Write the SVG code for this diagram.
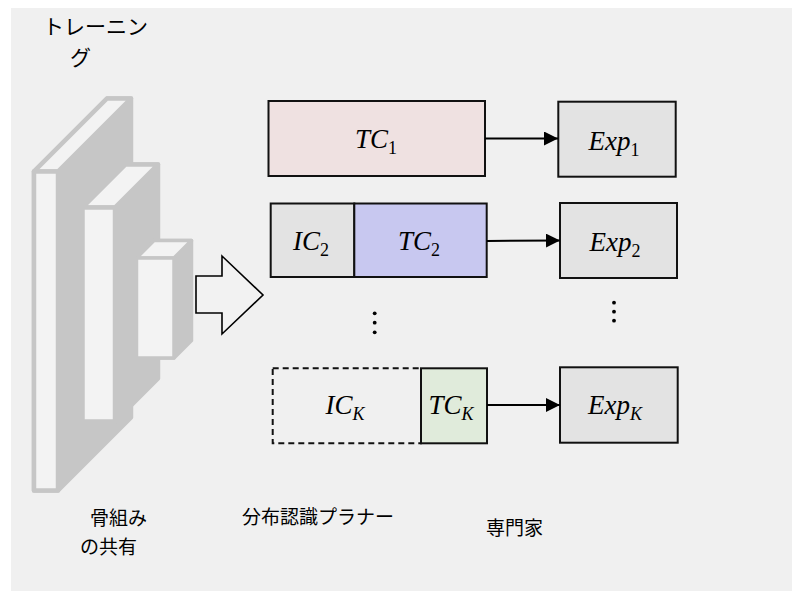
<svg xmlns="http://www.w3.org/2000/svg" width="792" height="591" viewBox="0 0 792 591">
  <style>
    .blk { fill: #c6c6c6; stroke: #c6c6c6; stroke-linejoin: round; }
    .face { fill: #f3f3f3; stroke: #c6c6c6; stroke-linejoin: round; }
    .box { stroke: #111; stroke-width: 2; }
    .math { font-family: "Liberation Serif", "Times New Roman", serif; font-style: italic; font-size: 27px; fill: #000; }
    .sub { font-size: 18px; }
    .up { font-style: normal; }
    .jp { font-family: "Noto Sans CJK JP", "Noto Sans", sans-serif; font-size: 19px; fill: #000; }
    .conn { stroke: #000; stroke-width: 2; fill: none; }
  </style>
  <defs>
    <marker id="head" markerUnits="userSpaceOnUse" markerWidth="14" markerHeight="14" refX="14" refY="7" orient="auto">
      <path d="M0,0 L14,7 L0,14 Z" fill="#000"/>
    </marker>
  </defs>

  <!-- panel background -->
  <rect x="11" y="8" width="781" height="583" fill="#f0f0f0"/>

  <!-- title -->
  <g id="label-training">
    <text class="jp" x="43" y="34" style="font-size:21px">トレーニン</text>
    <text class="jp" x="70" y="65" style="font-size:21px">グ</text>
  </g>

  <!-- shared backbone: three stacked cuboids -->
  <g id="backbone">
    <g id="layer1">
      <polygon class="blk" stroke-width="4.5" points="34,171.5 107,98.5 131,98.5 131,417.5 58,490.5 34,490.5"/>
      <polygon class="face" stroke-width="4.5" points="34,171.5 107,98.5 131,98.5 58,171.5"/>
      <rect class="face" stroke-width="4.5" x="34" y="171.5" width="24" height="319"/>
    </g>
    <g id="layer2">
      <polygon class="blk" stroke-width="4.5" points="82.5,207.5 125.5,164.5 158,164.5 158,378.5 115,421.5 82.5,421.5"/>
      <polygon class="face" stroke-width="4.5" points="82.5,207.5 125.5,164.5 158,164.5 115,207.5"/>
      <rect class="face" stroke-width="4.5" x="82.5" y="207.5" width="32.5" height="214"/>
    </g>
    <g id="layer3">
      <polygon class="blk" stroke-width="3.5" points="136.5,258 154,240.5 191.5,240.5 191.5,340.5 174,358 136.5,358"/>
      <polygon class="face" stroke-width="3.5" points="136.5,258 154,240.5 191.5,240.5 174,258"/>
      <rect class="face" stroke-width="3.5" x="136.5" y="258" width="37.5" height="100"/>
    </g>
  </g>

  <!-- hollow block arrow -->
  <g id="feed-arrow">
    <polygon points="196,276 222,276 222,256 263,295 222,334 222,313 196,313" fill="#f2f2f2" stroke="#000" stroke-width="1.6" stroke-linejoin="miter"/>
  </g>

  <!-- planner row 1 -->
  <g id="tc1">
    <rect class="box" x="268.5" y="101" width="216.5" height="75" fill="#efe1e1"/>
    <text class="math" x="376" y="148" text-anchor="middle">TC<tspan class="sub up" dy="6">1</tspan></text>
  </g>
  <!-- planner row 2 -->
  <g id="ic2">
    <rect class="box" x="270.7" y="203.5" width="83.6" height="73.5" fill="#e3e3e3"/>
    <text class="math" x="311" y="250" text-anchor="middle">IC<tspan class="sub up" dy="6">2</tspan></text>
  </g>
  <g id="tc2">
    <rect class="box" x="354.3" y="203.5" width="132.4" height="73.5" fill="#c8c8f0"/>
    <text class="math" x="419" y="250" text-anchor="middle">TC<tspan class="sub up" dy="6">2</tspan></text>
  </g>
  <!-- planner row K -->
  <g id="icK">
    <rect x="272.7" y="368.3" width="148.3" height="75" fill="none" stroke="#111" stroke-width="2" stroke-dasharray="6 4"/>
    <text class="math" x="345" y="414" text-anchor="middle">IC<tspan class="sub" dy="6">K</tspan></text>
  </g>
  <g id="tcK">
    <rect class="box" x="421" y="368.3" width="66" height="75" fill="#e0ebdb"/>
    <text class="math" x="451" y="414" text-anchor="middle">TC<tspan class="sub" dy="6">K</tspan></text>
  </g>

  <!-- experts -->
  <g id="exp1">
    <rect class="box" x="558.3" y="101.7" width="117.4" height="75" fill="#e3e3e3"/>
    <text class="math" x="614" y="150" text-anchor="middle">Exp<tspan class="sub up" dy="6">1</tspan></text>
  </g>
  <g id="exp2">
    <rect class="box" x="560" y="203" width="117" height="75" fill="#e3e3e3"/>
    <text class="math" x="615" y="251" text-anchor="middle">Exp<tspan class="sub up" dy="6">2</tspan></text>
  </g>
  <g id="expK">
    <rect class="box" x="560" y="367.3" width="117.7" height="75.4" fill="#e3e3e3"/>
    <text class="math" x="615" y="414" text-anchor="middle">Exp<tspan class="sub" dy="6">K</tspan></text>
  </g>

  <!-- ellipses -->
  <g id="ellipsis-planner" fill="#000">
    <circle cx="374.7" cy="313.3" r="1.9"/>
    <circle cx="374.7" cy="322.7" r="1.9"/>
    <circle cx="374.7" cy="332.3" r="1.9"/>
  </g>
  <g id="ellipsis-experts" fill="#000">
    <circle cx="614" cy="302.7" r="1.9"/>
    <circle cx="614" cy="311.7" r="1.9"/>
    <circle cx="614" cy="320.7" r="1.9"/>
  </g>

  <!-- connectors -->
  <g id="connectors">
    <line class="conn" x1="485" y1="138.5" x2="558" y2="138.5" marker-end="url(#head)"/>
    <line class="conn" x1="487" y1="241" x2="560" y2="240.5" marker-end="url(#head)"/>
    <line class="conn" x1="487" y1="405" x2="560" y2="405" marker-end="url(#head)"/>
  </g>

  <!-- column captions -->
  <g id="caption-backbone">
    <text class="jp" x="90" y="525">骨組み</text>
    <text class="jp" x="80" y="554">の共有</text>
  </g>
  <g id="caption-planner">
    <text class="jp" x="242" y="524">分布認識プラナー</text>
  </g>
  <g id="caption-experts">
    <text class="jp" x="486" y="535">専門家</text>
  </g>
</svg>
